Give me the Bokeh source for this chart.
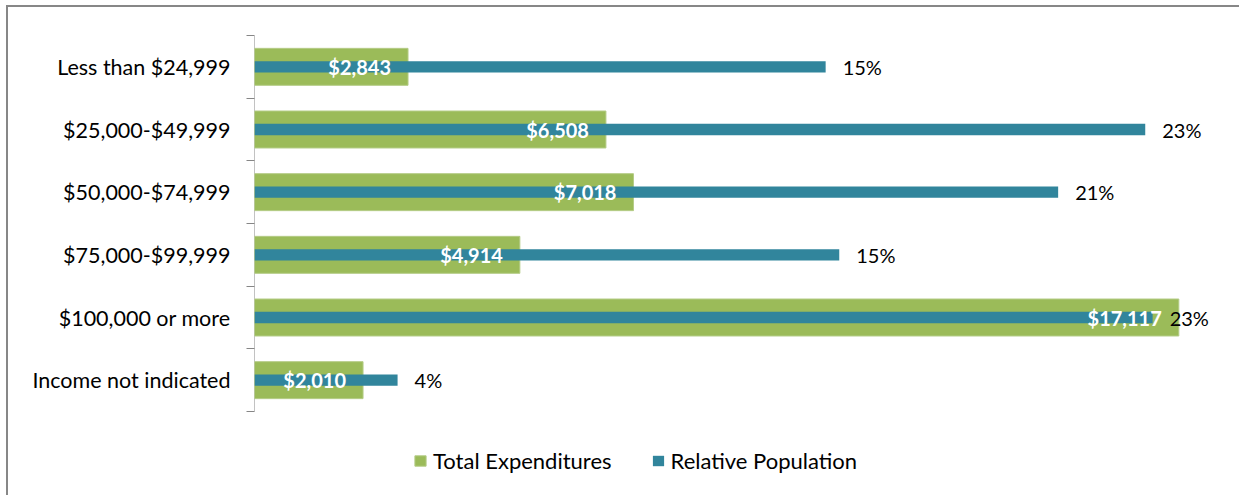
from bokeh.plotting import figure
from bokeh.models import Range1d, FixedTicker, Legend, LegendItem
from bokeh.core.properties import value
from bokeh.embed import file_html
from bokeh.resources import INLINE

categories = ["Less than $24,999", "$25,000-$49,999", "$50,000-$74,999",
              "$75,000-$99,999", "$100,000 or more", "Income not indicated"]
expenditures = [2843, 6508, 7018, 4914, 17117, 2010]
population = [14.69, 22.91, 20.67, 15.04, 23.10, 3.68]  # percent

exp_labels = ["${:,}".format(v) for v in expenditures]
pop_labels = ["{}%".format(int(round(v))) for v in population]

GREEN = "#9BBB59"
BLUE = "#31859C"
AXIS = "#868686"
FONT = value("Lato")

n = len(categories)
ypos = [i + 0.5 for i in range(n)]

FRAME_H = 460
BAND_PX = 376 / n
y_end = FRAME_H / BAND_PX

p = figure(width=1233, height=490, output_backend="svg", toolbar_location=None,
           x_range=Range1d(0, 18000), y_range=Range1d(y_end, 0),
           x_axis_location=None, min_border_left=246, min_border_right=15,
           min_border_top=28, min_border_bottom=490 - 28 - FRAME_H)
p.extra_x_ranges = {"pct": Range1d(0, 25)}
p.styles = {"border-left": "2px solid #878787", "border-top": "2px solid #878787",
            "margin-left": "6px", "margin-top": "5px"}
p.grid.visible = False
p.outline_line_color = None
p.background_fill_color = "white"
p.border_fill_color = "white"

# category axis line (only over the category bands)
p.segment(x0=[0], y0=[0], x1=[0], y1=[n], line_color=AXIS, line_width=1)

g = p.hbar(y=ypos, left=0, right=expenditures, height=0.59,
           fill_color=GREEN, line_color="#B4CC86", line_width=1)
b = p.hbar(y=ypos, left=0, right=population, height=0.18,
           fill_color=BLUE, line_color=None, x_range_name="pct")

p.text(x=expenditures, y=ypos, text=exp_labels, text_align="right",
       text_baseline="middle", x_offset=-17, text_color="white",
       text_font=FONT, text_font_style="bold", text_font_size="20px")
p.text(x=population, y=ypos, text=pop_labels, text_align="left",
       text_baseline="middle", x_offset=17, text_color="#000000",
       text_font=FONT, text_font_size="20px", x_range_name="pct")

ax = p.yaxis[0]
ax.ticker = FixedTicker(ticks=ypos, minor_ticks=list(range(0, n + 1)))
ax.major_label_overrides = {y: c for y, c in zip(ypos, categories)}
ax.axis_line_color = None
ax.major_tick_line_color = None
ax.major_tick_out = 0
ax.major_tick_in = 0
ax.minor_tick_line_color = AXIS
ax.minor_tick_out = 8
ax.minor_tick_in = 0
ax.major_label_standoff = 16
ax.major_label_text_font = "Lato"
ax.major_label_text_font_size = "21.5px"
ax.major_label_text_color = "#000000"

legend = Legend(items=[LegendItem(label="Total Expenditures", renderers=[g]),
                       LegendItem(label="Relative Population", renderers=[b])],
                orientation="horizontal", location=(159, 21),
                glyph_width=14, glyph_height=13, label_standoff=6, spacing=39,
                padding=0, margin=0, border_line_color=None,
                background_fill_alpha=0, label_text_font="Lato",
                label_text_font_size="22px", label_text_color="#000000")
p.add_layout(legend, "center")

open("out.html", "w").write(file_html(p, INLINE))
